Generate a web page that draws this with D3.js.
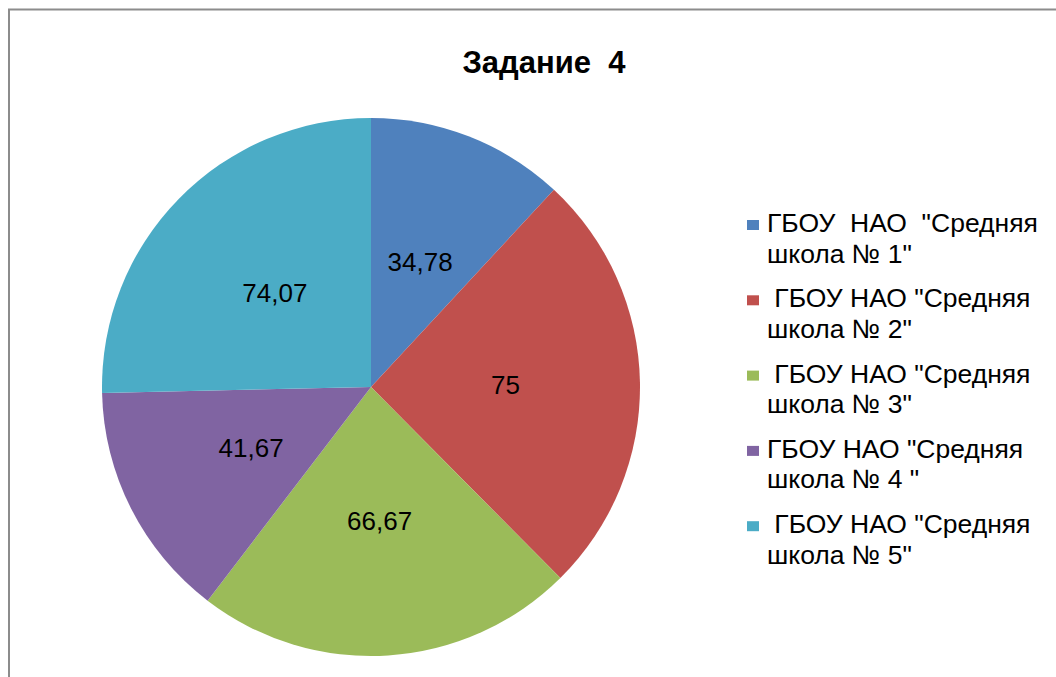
<!DOCTYPE html>
<html>
<head>
<meta charset="utf-8">
<script src="https://cdn.jsdelivr.net/npm/d3@7"></script>
<style>
  body { margin: 0; background: #fff; }
  svg { display: block; font-family: Arial, "Liberation Sans", sans-serif; }
</style>
</head>
<body>
<div id="chart"></div>
<script>
// data
const title = "Задание  4";
const schools = [
    ["ГБОУ  НАО  \"Средняя", "школа № 1\""],
    [" ГБОУ НАО \"Средняя", "школа № 2\""],
    [" ГБОУ НАО \"Средняя", "школа № 3\""],
    ["ГБОУ НАО \"Средняя", "школа № 4 \""],
    [" ГБОУ НАО \"Средняя", "школа № 5\""]
];
const values = [34.78, 75, 66.67, 41.67, 74.07];
const colors = ["#4F81BD", "#C0504D", "#9BBB59", "#8064A2", "#4BACC6"];

const w = 1056, h = 677;

const svg = d3.select("#chart")
    .append("svg")
    .attr("width", w)
    .attr("height", h);

// chart frame (only top and left edges are visible)
svg.append("path")
    .attr("d", "M9,677 V9.5 H1056")
    .attr("fill", "none")
    .attr("stroke", "#8c8c8c")
    .attr("stroke-width", 2);

svg.append("text")
    .attr("x", 544)
    .attr("y", 73)
    .attr("text-anchor", "middle")
    .attr("font-size", 31)
    .attr("font-weight", "bold")
    .style("white-space", "pre")
    .text(title);

const cx = 371, cy = 387, r = 269;

const pie = d3.pie().sort(null).value(d => d);
const arcs = pie(values);
const arc = d3.arc().innerRadius(0).outerRadius(r);
const labelArc = d3.arc().innerRadius(r * 0.5).outerRadius(r * 0.5);

const g = svg.append("g")
    .attr("transform", `translate(${cx},${cy})`);

g.selectAll("path")
    .data(arcs)
    .join("path")
    .attr("d", arc)
    .attr("fill", (d, i) => colors[i]);

const fmt = v => String(v).replace(".", ",");

g.selectAll("text")
    .data(arcs)
    .join("text")
    .attr("transform", d => {
        const c = labelArc.centroid(d);
        return `translate(${c[0]},${c[1]})`;
    })
    .attr("text-anchor", "middle")
    .attr("dy", "0.35em")
    .attr("font-size", 26)
    .attr("fill", "#000")
    .text(d => fmt(d.data));

// legend
const legend = svg.append("g");
const item = legend.selectAll("g")
    .data(schools)
    .join("g")
    .attr("transform", (d, i) => `translate(747,${232 + i * 75.3})`);

item.append("rect")
    .attr("x", 0)
    .attr("y", -12)
    .attr("width", 12)
    .attr("height", 10)
    .attr("fill", (d, i) => colors[i]);

item.append("text")
    .attr("x", 20)
    .attr("font-size", 26.5)
    .style("white-space", "pre")
    .selectAll("tspan")
    .data(d => d)
    .join("tspan")
    .attr("x", 20)
    .attr("y", (d, j) => j * 30.5)
    .text(d => d);
</script>
</body>
</html>
